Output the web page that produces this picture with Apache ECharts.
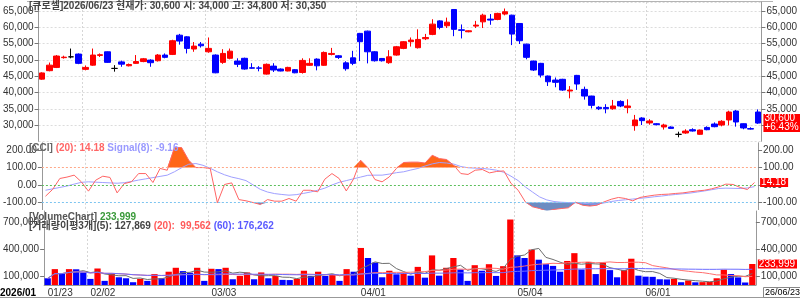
<!DOCTYPE html>
<html>
<head>
<meta charset="utf-8">
<script src="https://cdn.jsdelivr.net/npm/echarts@6/dist/echarts.min.js"></script>
<style>
  html, body { margin: 0; padding: 0; background: #fff; }
  #main { width: 800px; height: 298px; }
</style>
</head>
<body>
<div id="main"></div>
<script>
  // trading days shown on the chart
  var dates = [
    '2026/01/23','2026/01/26','2026/01/27','2026/01/28','2026/01/29','2026/01/30',
    '2026/02/02','2026/02/03','2026/02/04','2026/02/05','2026/02/06','2026/02/09','2026/02/10','2026/02/11',
    '2026/02/12','2026/02/13','2026/02/19','2026/02/20','2026/02/23','2026/02/24','2026/02/25','2026/02/26','2026/02/27',
    '2026/03/03','2026/03/04','2026/03/05','2026/03/06','2026/03/09','2026/03/10','2026/03/11','2026/03/12','2026/03/13',
    '2026/03/16','2026/03/17','2026/03/18','2026/03/19','2026/03/20','2026/03/23','2026/03/24','2026/03/25','2026/03/26',
    '2026/03/27','2026/03/30','2026/03/31',
    '2026/04/01','2026/04/02','2026/04/03','2026/04/06','2026/04/07','2026/04/08','2026/04/09','2026/04/10','2026/04/13',
    '2026/04/14','2026/04/15','2026/04/16','2026/04/17','2026/04/20','2026/04/21','2026/04/22','2026/04/23','2026/04/24',
    '2026/04/27','2026/04/28','2026/04/29','2026/04/30',
    '2026/05/04','2026/05/06','2026/05/07','2026/05/08','2026/05/11','2026/05/12','2026/05/13','2026/05/14','2026/05/15',
    '2026/05/18','2026/05/19','2026/05/20','2026/05/21','2026/05/22','2026/05/26','2026/05/27','2026/05/28','2026/05/29',
    '2026/06/01','2026/06/02','2026/06/04','2026/06/05','2026/06/08','2026/06/09','2026/06/10','2026/06/11','2026/06/12',
    '2026/06/15','2026/06/16','2026/06/17','2026/06/18','2026/06/19','2026/06/22','2026/06/23'
  ];
  var tickDates = ['2026/01/23', '2026/02/02', '2026/03/03', '2026/04/01', '2026/05/04', '2026/06/01'];

  var opens = [44100,46700,47700,50700,50950,51800,47100,48400,51400,52500,
    47400,49400,48200,48950,49500,49950,49750,51500,51700,57600,
    57100,53350,54850,52500,51500,49250,50500,49650,50500,47600,
    47550,45650,48100,47200,46600,47000,46150,48350,50250,48350,
    51700,51270,49100,50650,58150,58850,52500,50450,49150,51500,
    53550,55600,53750,56500,57850,62000,60500,65500,59250,58650,
    60400,61700,62540,62450,64100,63750,61200,54850,49650,48950,
    45050,43820,44050,40450,45250,40950,38900,35440,35400,35000,
    37250,35350,29800,32150,30650,30400,29400,29380,27140,27550,
    28560,27150,29260,30310,30000,31550,34300,30400,28900,34000];
  var closes = [46000,48400,51200,50850,50950,48950,47700,51500,51600,49250,
    47400,48700,48600,49500,50350,49150,51500,50800,55900,55800,
    53550,54250,54350,53550,46050,52000,52700,48650,47200,47450,
    47450,48650,46900,46600,47700,46050,49850,48950,48200,52300,
    52000,50780,47300,48950,55600,52500,49750,49750,50950,54050,
    55600,56100,56300,56900,61000,60000,61600,59400,59100,58950,
    60700,63750,62240,64300,64800,57950,55900,50800,46900,45350,
    43300,43110,40750,40750,42600,38900,36050,35000,35000,35850,
    35850,35850,31550,31350,31250,30100,30000,28970,27140,28150,
    28160,28450,28560,29490,31150,34000,30930,29100,28750,30600];
  var lows = [43900,46500,47500,50400,50500,48700,46800,48200,50900,49100,
    46400,47900,48000,48800,49300,47900,49500,50500,51500,54700,
    52000,52500,53800,52200,45900,48800,50200,47800,47000,47300,
    46500,45500,46300,46500,46500,45900,45800,48200,46800,48200,
    51400,50300,46700,48400,49650,48940,49500,49500,48800,51300,
    53300,54100,53500,56100,57600,59400,59800,57300,56600,58500,
    59800,59800,60800,62200,63700,54560,54900,50200,46600,44600,
    42000,41600,40500,38200,40800,37800,35100,34600,33600,34700,
    35500,33600,28250,30000,30100,29900,28600,28800,26230,27300,
    28000,27000,28400,29300,29600,29900,29500,28700,28600,30350];
  var highs = [46200,49200,51500,51300,53500,52000,48300,53500,52000,52600,
    48400,49800,48900,51500,50600,50200,51800,52000,56200,58000,
    57300,55500,55500,56900,51700,53300,53500,50500,50700,49000,
    48100,48900,49000,47400,47900,47200,50500,50500,50500,52600,
    53700,51500,49600,52800,58300,59000,52700,50600,53000,54300,
    55800,56900,59400,58000,62500,62200,63000,65600,60900,59100,
    62000,64200,64100,64500,65800,63900,61300,55000,49800,49100,
    45200,44600,44200,41970,45400,41800,39000,35800,36400,37700,
    37600,37900,33100,32400,31800,30600,30400,29600,27950,28700,
    29000,28600,29600,30800,31500,34400,34600,30500,29300,34800];

  var cci = [-64,-25,37,45,56,18,-35,27,50,43,
    -45,8,18,65,65,14,94,84,213,213,
    141,99,99,94,-101,3,12,-83,-90,-100,
    -111,-83,-92,-92,-77,-92,-30,-30,-39,33,
    65,37,-34,33,141,99,31,18,46,94,
    128,130,130,125,169,150,145,112,65,60,
    84,88,69,77,80,9,-30,-96,-124,-134,
    -149,-139,-134,-130,-98,-115,-120,-115,-96,-81,
    -71,-77,-90,-71,-64,-58,-54,-52,-48,-45,
    -39,-34,-30,-22,-11,5,3,-14,-26,14.18];
  var cciSignal = [-30,-22,-14,-6,5,15,18,16,14,12,
    10,13,20,28,35,42,49,56,75,98,
    118,122,112,95,75,58,45,36,25,0,
    -25,-40,-49,-54,-58,-55,-48,-40,-30,-18,
    0,15,25,35,45,55,56,56,62,70,
    75,85,94,108,120,128,125,119,105,98,
    96,94,90,84,72,50,25,-11,-40,-68,
    -85,-94,-98,-100,-101,-104,-107,-109,-102,-94,
    -88,-84,-80,-76,-72,-67,-63,-58,-54,-50,
    -46,-40,-34,-27,-20,-18,-19,-20,-17,-9.16];

  var volumes = [75000,177000,130000,177000,175000,140000,68000,184000,46000,130000,
    86000,75000,31000,68000,46000,122000,75000,148000,192000,155000,
    137000,192000,46000,181000,177000,192000,64000,101000,140000,64000,
    140000,75000,101000,57000,55000,68000,159000,101000,148000,101000,
    119000,46000,177000,148000,413000,301000,250000,86000,159000,119000,
    137000,104000,202000,82000,330000,104000,192000,301000,173000,46000,
    221000,159000,232000,101000,210000,730000,330000,301000,395000,282000,
    232000,213000,148000,268000,355000,173000,257000,122000,250000,166000,
    86000,166000,293000,104000,93000,91000,64000,62000,68000,31000,
    50000,30000,32000,35000,75000,170000,122000,85000,28000,233999];
  // moving-average values printed in the volume header
  var volMaLast = [127869, 99562, 176262];

  var FONT = '"Liberation Sans","Noto Sans CJK KR",sans-serif';
  var UP = '#ff0000', DOWN = '#0000ff';
  var n = dates.length;
  var last = n - 1;

  function fmt(v) { return Math.round(v).toLocaleString('en-US'); }
  function ma(arr, w) {
    return arr.map(function (v, i) {
      var s = 0, c = 0;
      for (var k = Math.max(0, i - w + 1); k <= i; k++) { s += arr[k]; c++; }
      return Math.round(s / c);
    });
  }

  var candles = dates.map(function (d, i) { return [opens[i], closes[i], lows[i], highs[i]]; });
  var volBars = volumes.map(function (v, i) {
    return { value: v, itemStyle: { color: (i > 0 && v > volumes[i - 1]) ? UP : DOWN } };
  });
  var cciBase = cci.map(function () { return 100; });
  var cciOver = cci.map(function (v) { return Math.max(v - 100, 0); });
  var cciLowBase = cci.map(function () { return -100; });
  var cciUnder = cci.map(function (v) { return Math.min(v + 100, 0); });
  var chg = (closes[last] / closes[last - 1] - 1) * 100;

  var tickSet = {};
  tickDates.forEach(function (d) { tickSet[d] = true; });

  function xAx(gi, showLabel) {
    return {
      type: 'category', gridIndex: gi, data: dates, boundaryGap: true,
      axisLine: { show: showLabel, lineStyle: { color: '#999' } },
      axisTick: { show: false },
      axisLabel: {
        show: showLabel, fontSize: 10, color: '#333', fontFamily: FONT, margin: 3, align: 'left',
        interval: function (i, v) { return !!tickSet[v]; },
        formatter: function (v) { return v.slice(5); }
      },
      splitLine: {
        show: true,
        interval: function (i, v) { return !!tickSet[v] && i > 0; },
        lineStyle: { color: '#d6d6d6', type: [2, 2] }
      }
    };
  }

  function yAx(gi, pos, o) {
    var ax = {
      type: 'value', gridIndex: gi, position: pos, min: o.min, max: o.max, interval: o.interval,
      axisLine: { show: true, lineStyle: { color: '#999' } },
      axisTick: { show: true, length: 4, lineStyle: { color: '#777' } },
      axisLabel: {
        fontSize: 10, color: '#333', fontFamily: FONT, margin: 5,
        showMinLabel: false, showMaxLabel: false, formatter: o.formatter
      },
      splitLine: { show: !!o.split && pos === 'left', lineStyle: { color: '#dcdcdc', type: [2, 2] } }
    };
    if (o.custom) {
      ax.axisLabel.customValues = o.custom;
      ax.axisTick.customValues = o.custom;
      ax.axisLabel.showMinLabel = true;
      ax.axisLabel.showMaxLabel = true;
    }
    return ax;
  }

  var priceAx = { min: 25000, max: 67800, interval: 5000, split: true, formatter: fmt };
  var cciAx = { min: -140, max: 240, interval: 20, custom: [200, 100, 0, -100],
    formatter: function (v) { return v.toFixed(2); } };
  var volAx = { min: 0, max: 825000, interval: 100000, custom: [100000, 400000, 700000], formatter: fmt };

  var HIDDEN = { color: 'rgba(0,0,0,0)', width: 0 };
  function tagLabel(text) {
    return {
      show: true, position: 'end', distance: 2, formatter: text,
      backgroundColor: UP, color: '#fff', fontSize: 10, fontFamily: FONT,
      lineHeight: 9, padding: [0, 2, 0, 1]
    };
  }
  function rich(color) { return { color: color, fontSize: 10, fontFamily: FONT, lineHeight: 11 }; }

  var option = {
    animation: false,
    backgroundColor: '#fff',
    grid: [
      { left: 27, right: 27, top: 2, height: 139.3 },
      { left: 27, right: 27, top: 142.8, height: 66.8 },
      { left: 27, right: 27, top: 211, height: 76.3 }
    ],
    title: [
      { left: 29, top: 1, padding: 0,
        text: '[큐로셀]' + dates[last] + ' 현재가: ' + fmt(closes[last]) + ' 시: ' + fmt(opens[last]) +
          ' 고: ' + fmt(highs[last]) + ' 저: ' + fmt(lows[last]),
        textStyle: rich('#444') },
      { left: 29, top: 142.5, padding: 0,
        text: '{g|[CCI]} {r|(20): ' + cci[last].toFixed(2) + '} {b|Signal(8): ' + cciSignal[last].toFixed(2) + '}',
        textStyle: { fontSize: 10, rich: { g: rich('#666'), r: rich('#ff6666'), b: rich('#9a9aff') } } },
      { left: 29, top: 212, padding: 0,
        text: '{g|[VolumeChart]} {v|' + fmt(volumes[last]) + '}',
        textStyle: { fontSize: 10, rich: { g: rich('#555'), v: rich('#3a9a3a') } } },
      { left: 29, top: 221, padding: 0,
        text: '{g|[거래량이평3개](5): ' + fmt(volMaLast[0]) + '} {r|(20):  ' + fmt(volMaLast[1]) + '} {b|(60): ' + fmt(volMaLast[2]) + '}',
        textStyle: { fontSize: 10, rich: { g: rich('#444'), r: rich('#ff5a5a'), b: rich('#5a5aff') } } }
    ],
    xAxis: [xAx(0, false), xAx(1, false), xAx(2, true)],
    yAxis: [
      yAx(0, 'left', priceAx), yAx(0, 'right', priceAx),
      yAx(1, 'left', cciAx), yAx(1, 'right', cciAx),
      yAx(2, 'left', volAx), yAx(2, 'right', volAx)
    ],
    series: [
      {
        type: 'candlestick', xAxisIndex: 0, yAxisIndex: 0, data: candles, barWidth: 6,
        itemStyle: { color: UP, color0: DOWN, borderColor: UP, borderColor0: DOWN, borderColorDoji: '#000', borderWidth: 1 },
        markLine: {
          silent: true, symbol: 'none', lineStyle: HIDDEN,
          label: tagLabel(fmt(closes[last]) + '\n' + (chg >= 0 ? '+' : '') + chg.toFixed(2) + '%'),
          data: [{ yAxis: closes[last] }]
        }
      },
      { type: 'line', xAxisIndex: 1, yAxisIndex: 2, data: cciBase, stack: 'over', stackStrategy: 'all',
        symbol: 'none', lineStyle: { opacity: 0 }, silent: true, z: 1 },
      { type: 'line', xAxisIndex: 1, yAxisIndex: 2, data: cciOver, stack: 'over', stackStrategy: 'all',
        symbol: 'none', lineStyle: { opacity: 0 }, areaStyle: { color: '#ff6618', opacity: 1 }, silent: true, z: 1 },
      { type: 'line', xAxisIndex: 1, yAxisIndex: 2, data: cciLowBase, stack: 'under', stackStrategy: 'all',
        symbol: 'none', lineStyle: { opacity: 0 }, silent: true, z: 1 },
      { type: 'line', xAxisIndex: 1, yAxisIndex: 2, data: cciUnder, stack: 'under', stackStrategy: 'all',
        symbol: 'none', lineStyle: { opacity: 0 }, areaStyle: { color: '#6d8cc2', opacity: 1 }, silent: true, z: 1 },
      {
        type: 'line', xAxisIndex: 1, yAxisIndex: 2, data: cciSignal, symbol: 'none', z: 3,
        lineStyle: { color: '#a0a0ff', width: 1 }
      },
      {
        type: 'line', xAxisIndex: 1, yAxisIndex: 2, data: cci, symbol: 'none', z: 4,
        lineStyle: { color: '#ff6464', width: 1 },
        markLine: {
          silent: true, symbol: 'none', label: { show: false },
          data: [
            { yAxis: 100, lineStyle: { color: '#ffa888', type: [2, 2], width: 1 } },
            { yAxis: 0, lineStyle: { color: '#5cbf5c', type: [2, 2], width: 1 } },
            { yAxis: -100, lineStyle: { color: '#7cc4f0', type: [2, 2], width: 1 } },
            { yAxis: cci[last], lineStyle: HIDDEN, label: tagLabel(cci[last].toFixed(2)) }
          ]
        }
      },
      {
        type: 'bar', xAxisIndex: 2, yAxisIndex: 4, data: volBars, barWidth: '88%',
        markLine: {
          silent: true, symbol: 'none', lineStyle: HIDDEN,
          label: tagLabel(fmt(volumes[last])),
          data: [{ yAxis: volumes[last] }]
        }
      },
      { type: 'line', xAxisIndex: 2, yAxisIndex: 4, data: ma(volumes, 5), symbol: 'none', z: 3,
        lineStyle: { color: '#6e6e6e', width: 1 } },
      { type: 'line', xAxisIndex: 2, yAxisIndex: 4, data: ma(volumes, 20), symbol: 'none', z: 3,
        lineStyle: { color: '#ff6e6e', width: 1 } },
      { type: 'line', xAxisIndex: 2, yAxisIndex: 4, data: ma(volumes, 60), symbol: 'none', z: 3,
        lineStyle: { color: '#6e6eff', width: 1 } }
    ],
    graphic: [
      { type: 'line', silent: true, shape: { x1: 27, y1: 1.5, x2: 773, y2: 1.5 }, style: { stroke: '#b4b4b4', lineWidth: 1 } },
      { type: 'line', silent: true, shape: { x1: 0, y1: 297.5, x2: 800, y2: 297.5 }, style: { stroke: '#999', lineWidth: 1 } },
      { type: 'text', silent: true, x: 0, y: 293, z: 10,
        style: { text: dates[0].slice(0, 7), fill: '#000', font: 'bold 10px ' + FONT, verticalAlign: 'middle' } },
      { type: 'rect', silent: true, z: 10, shape: { x: 763.5, y: 287.5, width: 37, height: 10 },
        style: { fill: '#fff', stroke: '#888', lineWidth: 1 } },
      { type: 'text', silent: true, x: 765, y: 293, z: 11,
        style: { text: dates[last].slice(2), fill: '#000', font: '9px ' + FONT, verticalAlign: 'middle' } }
    ]
  };

  var myChart = echarts.init(document.getElementById('main'));
  myChart.setOption(option);
</script>
</body>
</html>
